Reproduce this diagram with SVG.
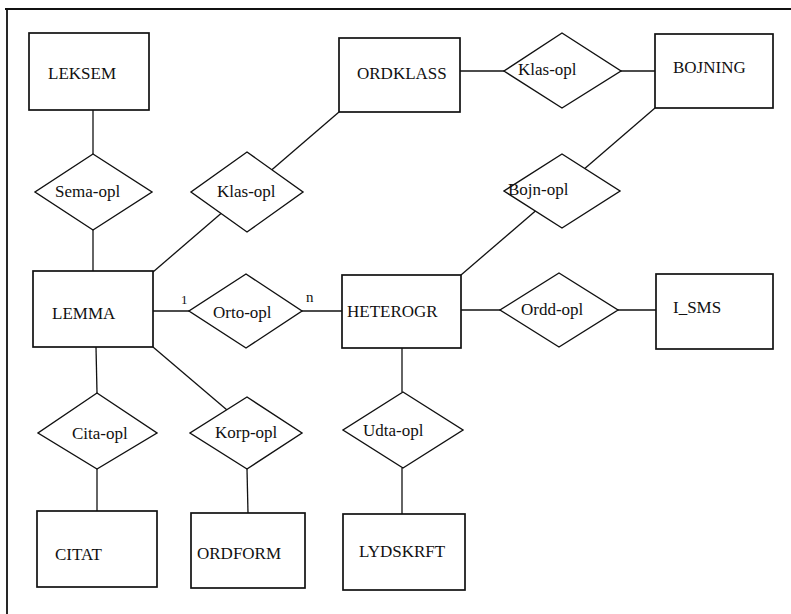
<svg xmlns="http://www.w3.org/2000/svg" width="791" height="614" viewBox="0 0 791 614">
<style>
.ent{fill:#fff;stroke:#111;stroke-width:1.7}
.rel{fill:#fff;stroke:#111;stroke-width:1.4}
.ln{stroke:#111;stroke-width:1.3;fill:none}
.frame{stroke:#111;stroke-width:1.8;fill:none}
text{fill:#111}
</style>
<rect width="791" height="614" fill="#fff"/>
<path class="frame" d="M5 9 H791 M7 9 V614"/>
<g font-family="Liberation Serif, DejaVu Serif, serif" font-size="17">
<g id="connectors">
<line class="ln" x1="93" y1="110" x2="93" y2="154"/>
<line class="ln" x1="93" y1="230" x2="93" y2="271"/>
<line class="ln" x1="153" y1="272" x2="339" y2="112"/>
<line class="ln" x1="460" y1="71" x2="504" y2="71"/>
<line class="ln" x1="621" y1="71" x2="655" y2="71"/>
<line class="ln" x1="461" y1="275" x2="655" y2="108"/>
<line class="ln" x1="153" y1="311" x2="189" y2="311"/>
<line class="ln" x1="302" y1="311" x2="342" y2="311"/>
<line class="ln" x1="461" y1="310" x2="500" y2="310"/>
<line class="ln" x1="618" y1="310" x2="656" y2="310"/>
<line class="ln" x1="96" y1="347" x2="97" y2="393"/>
<line class="ln" x1="97" y1="469" x2="97" y2="511"/>
<line class="ln" x1="153" y1="347" x2="247" y2="427"/>
<line class="ln" x1="247" y1="469" x2="248" y2="513"/>
<line class="ln" x1="402" y1="348" x2="402" y2="392"/>
<line class="ln" x1="402" y1="468" x2="402" y2="514"/>
<text x="181" y="304" font-size="13">1</text>
<text x="306" y="302" font-size="15">n</text>
</g>
<g id="LEKSEM"><rect class="ent" x="29" y="33" width="120" height="77"/><text x="48" y="79">LEKSEM</text></g>
<g id="ORDKLASS"><rect class="ent" x="339" y="38" width="121" height="74"/><text x="357" y="79">ORDKLASS</text></g>
<g id="BOJNING"><rect class="ent" x="655" y="34" width="118" height="74"/><text x="673" y="73">BOJNING</text></g>
<g id="LEMMA"><rect class="ent" x="33" y="271" width="120" height="76"/><text x="52" y="319">LEMMA</text></g>
<g id="HETEROGR"><rect class="ent" x="342" y="275" width="119" height="73"/><text x="347" y="317">HETEROGR</text></g>
<g id="I_SMS"><rect class="ent" x="656" y="274" width="117" height="75"/><text x="673" y="313">I_SMS</text></g>
<g id="CITAT"><rect class="ent" x="37" y="511" width="120" height="76"/><text x="55" y="560">CITAT</text></g>
<g id="ORDFORM"><rect class="ent" x="191" y="513" width="114" height="75"/><text x="197" y="559">ORDFORM</text></g>
<g id="LYDSKRFT"><rect class="ent" x="343" y="514" width="122" height="76"/><text x="359" y="557">LYDSKRFT</text></g>
<g id="Sema-opl"><polygon class="rel" points="93,154 152,192 93,230 35,192"/><text x="55" y="197">Sema-opl</text></g>
<g id="Klas-opl-1"><polygon class="rel" points="247,152 303,192 247,232 191,192"/><text x="217" y="197">Klas-opl</text></g>
<g id="Klas-opl-2"><polygon class="rel" points="562,33 621,71 562,108 504,71"/><text x="518" y="75">Klas-opl</text></g>
<g id="Bojn-opl"><polygon class="rel" points="562,154 620,191 562,228 504,191"/><text x="508" y="195">Bojn-opl</text></g>
<g id="Orto-opl"><polygon class="rel" points="246,274 302,311 246,348 189,311"/><text x="213" y="318">Orto-opl</text></g>
<g id="Ordd-opl"><polygon class="rel" points="559,273 618,310 559,347 500,310"/><text x="521" y="315">Ordd-opl</text></g>
<g id="Cita-opl"><polygon class="rel" points="97,393 157,433 97,469 38,433"/><text x="72" y="439">Cita-opl</text></g>
<g id="Korp-opl"><polygon class="rel" points="247,397 302,433 247,469 190,433"/><text x="215" y="438">Korp-opl</text></g>
<g id="Udta-opl"><polygon class="rel" points="403,392 463,430 403,468 343,430"/><text x="363" y="436">Udta-opl</text></g>
</g>
</svg>
